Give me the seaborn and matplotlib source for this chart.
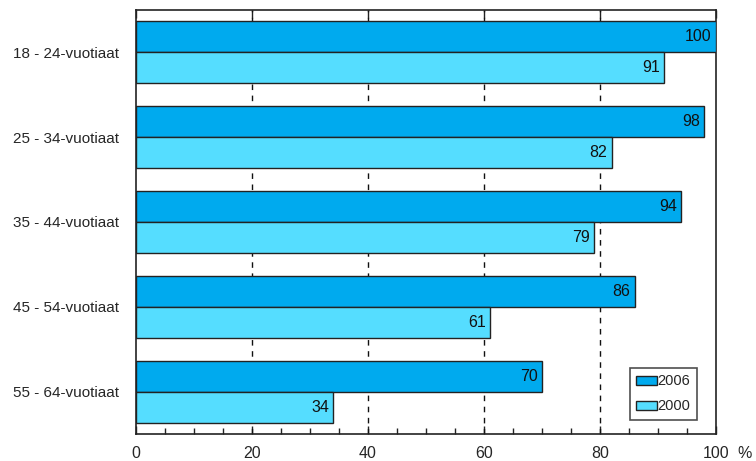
import seaborn as sb
import pandas as pd
import numpy as np
import matplotlib.pyplot as plt
from matplotlib.ticker import MultipleLocator

groups = ['18 - 24-vuotiaat', '25 - 34-vuotiaat', '35 - 44-vuotiaat',
          '45 - 54-vuotiaat', '55 - 64-vuotiaat']
years = ['2006', '2000']
vals_2006 = [100, 98, 94, 86, 70]
vals_2000 = [91, 82, 79, 61, 34]
colors = ['#00AAEE', '#55DDFF']

df = pd.DataFrame({
    'group': groups * 2,
    'year': [years[0]] * 5 + [years[1]] * 5,
    'value': vals_2006 + vals_2000,
})

sb.set_style('white')
plt.rcParams['font.family'] = ['Liberation Sans', 'DejaVu Sans']

fig = plt.figure(figsize=(7.56, 4.61), dpi=100)
ax = fig.add_axes([0.180, 0.0586, 0.767, 0.9197])

sb.barplot(data=df, y='group', x='value', hue='year', orient='h',
           palette=colors, saturation=1, width=0.73, edgecolor='#222222',
           linewidth=1, order=groups, hue_order=years, ax=ax, zorder=3)

# value labels right-aligned just inside the bar ends
for cont in ax.containers:
    for bar, v in zip(cont, cont.datavalues):
        x = bar.get_x() + bar.get_width()
        y = bar.get_y() + bar.get_height() / 2
        ax.annotate(f'{v:.0f}', (x, y), xytext=(-3, 0), textcoords='offset points',
                    ha='right', va='center', fontsize=11.5, color='#111111',
                    zorder=4)

ax.set_xlim(0, 100)
ax.set_ylim(4.5, -0.5)
ax.set_xticks([0, 20, 40, 60, 80, 100])
ax.xaxis.set_minor_locator(MultipleLocator(5))
ax.tick_params(axis='x', which='major', direction='in', length=6, width=1,
               top=True, bottom=True, labelsize=11.5, pad=9, color='#222222')
ax.tick_params(axis='x', which='minor', direction='in', length=4, width=1,
               bottom=True, color='#222222')
ax.tick_params(axis='y', length=0, labelsize=11, pad=12)
ax.annotate('%', (105, 4.5), xytext=(0, -9), textcoords='offset points',
            ha='center', va='top', fontsize=11.5, annotation_clip=False)
ax.set_xlabel('')
ax.set_ylabel('')

for x in [20, 40, 60, 80]:
    ax.axvline(x, color='#111111', linestyle=(0, (4, 4)), linewidth=1, zorder=1)

for s in ax.spines.values():
    s.set_visible(True)
    s.set_color('#222222')
    s.set_linewidth(1.2)

leg = ax.legend(loc='lower right', bbox_to_anchor=(0.967, 0.033),
                fontsize=10.5, frameon=True, fancybox=False, edgecolor='#222222',
                handlelength=1.4, handleheight=0.6, handletextpad=0.05,
                borderpad=0.45, labelspacing=0.75, borderaxespad=0)
leg.get_frame().set_linewidth(1.2)

fig.savefig('out.png', dpi=100)
